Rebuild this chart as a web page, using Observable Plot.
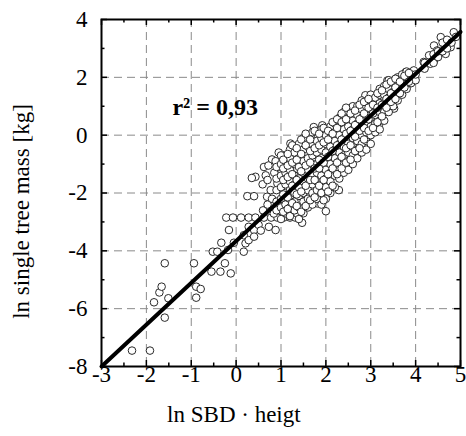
<!DOCTYPE html>
<html><head><meta charset="utf-8">
<script src="https://cdn.jsdelivr.net/npm/d3@7"></script>
<script src="https://cdn.jsdelivr.net/npm/@observablehq/plot@0.6"></script>
<style>
html,body{margin:0;padding:0;background:#fff}
#chart svg, #chart svg text, #chart svg g { font-family: "Liberation Serif", "Times New Roman", serif !important; }
</style>
</head><body><div id="chart"></div>
<script>
const scatteredPoints = [
  [-2.32,-7.45],[-1.92,-7.45],[-1.83,-5.78],[-1.71,-5.44],[-1.66,-5.24],[-1.59,-4.43],
  [-1.51,-5.64],[-1.59,-6.31],[-0.94,-4.43],[-0.89,-5.24],[-0.79,-5.32],[-0.89,-5.62],
  [-0.55,-4.72],[-0.52,-4.03],[-0.42,-4.03],[-0.33,-3.72],[-0.35,-4.72],[-0.25,-4.43],
  [-0.18,-3.97],[-0.12,-4.78],[-0.16,-3.28],
  [-0.22,-2.85],[-0.07,-2.85],[0.11,-2.85],[0.28,-2.85],[0.43,-2.85],[0.62,-2.85],
  [0.78,-2.85],[0.92,-2.85],[1.06,-2.85],[1.20,-2.85],[1.32,-2.85],
  [-0.05,-3.72],[0.17,-3.46],[0.21,-3.74],[0.28,-3.63],[0.17,-4.03],[0.28,-3.17],
  [0.40,-3.28],[0.40,-3.51],[0.25,-2.11],[0.40,-2.11],[0.43,-1.44],[0.35,-1.48],
  [0.62,-1.10],[0.66,-1.39],[0.59,-1.70],[0.73,-3.17],[0.69,-2.13],[0.77,-1.90],
  [0.84,-2.71],[0.88,-3.28],[0.80,-0.84],[0.92,-1.67],[1.00,-1.33],[1.07,-0.98],
  [1.03,-0.69],[1.14,-2.08],[1.21,-2.36],[1.21,-0.29],[1.29,-0.69],[1.36,-1.16],
  [1.40,-1.73],[1.44,-2.25],[1.47,-3.03],[1.47,-2.62],[1.36,-2.71],[1.51,-0.41],
  [1.58,-0.69],[1.66,-0.06],[1.73,0.28],[1.77,-0.52],[1.81,-1.33],[1.92,0.34],
  [1.81,-2.36],[2.00,-2.63],[1.84,-2.13],[2.29,-1.90],[2.07,-1.10],[2.00,-0.06],
  [2.14,0.28],[2.25,0.05],[2.33,0.57],[2.48,0.86],[2.55,0.51],[2.59,-0.52],
  [2.70,-0.18],[2.74,0.97],[2.88,-0.29],[2.92,0.17],[2.88,1.38],[2.99,0.00],
  [2.99,0.74],[3.07,0.34],[3.14,1.20],[3.18,0.34],[3.29,1.32],[3.33,0.86],
  [3.37,1.89],[3.48,1.61],[3.52,0.92],[3.59,1.78],[3.66,1.49],[3.70,2.01],
  [3.78,2.18],[3.85,1.78],[3.96,2.24],[4.18,2.53],[4.30,2.76],[4.41,3.10],
  [4.48,2.93],[4.56,3.39],[4.63,3.16],[4.67,2.81],[4.74,3.22],[4.85,3.56],
  [4.78,3.04],[4.33,2.47],[4.41,2.58],
  [0.50,-3.10],[0.60,-2.60],[0.70,-2.40],[0.80,-2.20],[0.55,-3.30],
  [0.72,-1.05],[0.88,-0.90],[0.95,-0.60],[0.70,-1.55],[0.85,-1.30]
];
// dense cloud, read column by column: [x, [y values]]
const denseColumns = [
  [0.9, [-2.6,-2.3,-1.9,-1.5,-1.1]],
  [1.0, [-2.9,-2.5,-2.2,-1.8,-1.4,-1.0,-0.7]],
  [1.1, [-2.7,-2.4,-2.0,-1.7,-1.3,-0.9]],
  [1.2, [-2.8,-2.5,-2.2,-1.9,-1.6,-1.2,-0.8,-0.5]],
  [1.3, [-2.6,-2.3,-2.0,-1.7,-1.4,-1.0,-0.6]],
  [1.4, [-2.9,-2.5,-2.1,-1.8,-1.5,-1.1,-0.8,-0.3]],
  [1.5, [-2.7,-2.3,-2.0,-1.6,-1.3,-0.9,-0.5,-0.1]],
  [1.6, [-2.5,-2.2,-1.9,-1.5,-1.2,-0.8,-0.4]],
  [1.7, [-2.4,-2.0,-1.7,-1.4,-1.0,-0.7,-0.3,0.1]],
  [1.8, [-2.2,-1.9,-1.6,-1.3,-1.0,-0.6,-0.2]],
  [1.9, [-2.4,-2.0,-1.7,-1.4,-1.1,-0.8,-0.5,-0.1,0.2]],
  [2.0, [-2.2,-1.8,-1.5,-1.2,-0.9,-0.6,-0.3,0.0]],
  [2.1, [-2.0,-1.6,-1.3,-1.0,-0.7,-0.4,-0.1,0.3]],
  [2.2, [-1.8,-1.4,-1.1,-0.8,-0.5,-0.2,0.1,0.4]],
  [2.3, [-1.5,-1.2,-0.9,-0.6,-0.3,0.0,0.3,0.6]],
  [2.4, [-1.3,-1.0,-0.7,-0.4,-0.1,0.2,0.5,0.8]],
  [2.5, [-1.2,-0.9,-0.6,-0.3,0.0,0.3,0.6]],
  [2.6, [-1.0,-0.7,-0.4,-0.1,0.2,0.5,0.8,1.0]],
  [2.7, [-0.8,-0.5,-0.2,0.1,0.4,0.7,1.0]],
  [2.8, [-0.6,-0.3,0.0,0.3,0.6,0.9,1.2]],
  [2.9, [-0.5,-0.2,0.1,0.4,0.7,1.0]],
  [3.0, [-0.3,0.0,0.3,0.6,0.9,1.2,1.4]],
  [3.1, [0.1,0.4,0.7,1.0,1.3]],
  [3.2, [0.2,0.5,0.8,1.1,1.4,1.6]],
  [3.3, [0.5,0.8,1.1,1.4,1.7]],
  [3.4, [0.8,1.0,1.3,1.6,1.9]],
  [3.5, [1.0,1.3,1.5,1.8]],
  [3.6, [1.2,1.5,1.7,2.0]],
  [3.7, [1.4,1.7,1.9,2.1]],
  [3.8, [1.6,1.8,2.0,2.2]],
  [3.9, [1.8,2.0,2.1]],
  [4.0, [1.9,2.1]],
  [4.2, [2.3,2.5]],
  [4.4, [2.5,2.8]],
  [4.5, [2.7,2.9]],
  [4.6, [2.9,3.2]],
  [4.7, [3.0,3.3]],
  [4.8, [3.2]],
  [4.9, [3.4]],
  [1.05, [-2.65,-2.05,-1.55,-1.15,-0.85]],
  [1.15, [-2.55,-2.15,-1.45,-1.05,-0.65]],
  [1.25, [-2.35,-1.75,-1.35,-0.95,-0.35]],
  [1.35, [-2.45,-2.05,-1.55,-0.85,-0.45]],
  [1.45, [-2.65,-1.95,-1.25,-0.65,-0.15]],
  [1.55, [-2.45,-1.75,-1.05,-0.35,0.05]],
  [1.65, [-2.25,-1.55,-0.95,-0.55,-0.15]],
  [1.75, [-2.15,-1.55,-1.15,-0.45,0.15]],
  [1.85, [-1.75,-1.15,-0.85,-0.35,0.05]],
  [1.95, [-2.25,-1.55,-0.95,-0.25,0.25]],
  [2.05, [-1.95,-1.35,-0.75,-0.15,0.15]],
  [2.15, [-1.75,-1.15,-0.55,0.05,0.45]],
  [2.25, [-1.35,-0.95,-0.35,0.25,0.55]],
  [2.35, [-1.15,-0.75,-0.15,0.45,0.75]],
  [2.45, [-0.95,-0.45,0.05,0.55,0.95]],
  [2.55, [-0.85,-0.35,0.15,0.75]],
  [2.65, [-0.55,-0.05,0.35,0.85]],
  [2.75, [-0.45,0.15,0.55,1.05]],
  [2.85, [-0.15,0.25,0.75,1.15]],
  [2.95, [0.15,0.55,0.95,1.25]],
  [3.05, [0.25,0.75,1.05]],
  [3.15, [0.45,0.95,1.45]],
  [3.25, [0.65,1.05,1.55]],
  [3.35, [0.95,1.25,1.75]],
  [3.45, [1.15,1.45,1.85]],
  [3.55, [1.25,1.65,1.95]],
  [3.65, [1.45,1.85]],
  [3.75, [1.65,2.05]],
  [3.85, [1.85,2.15]]
];
// regression line end points
const fitX = [-3, 5];
const fitY = [-8, 3.57];
// axes
const xMajorTicks = [-3, -2, -1, 0, 1, 2, 3, 4, 5];
const xMinorTicks = [-2.5, -1.5, -0.5, 0.5, 1.5, 2.5, 3.5, 4.5];
const yMajorTicks = [-8, -6, -4, -2, 0, 2, 4];
const yMinorTicks = [-7, -5, -3, -1, 1, 3];
const xGrid = [-2, -1, 0, 1, 2, 3, 4];
const yGrid = [-6, -4, -2, 0, 2];
const xTitle = [{x: -0.05, y: -8, text: "ln SBD · heigt"}];
const yTitle = [{x: -3, y: -2.64, text: "ln single tree mass [kg]"}];
const annotation = [{x: -1.42, y: 0.95, text: "r² = 0,93"}];

const points = scatteredPoints.map(([x, y]) => ({x, y}));
for (const [x, ys] of denseColumns) for (const y of ys) points.push({x, y});
const fit = fitX.map((x, i) => ({x, y: fitY[i]}));

const W = 466, H = 436, mL = 101, mR = 6, mT = 19, mB = 70;
const innerH = H - mT - mB, innerW = W - mL - mR;
const majorLen = 6, minorLen = 3.5;
const tickStroke = {stroke: "black", strokeWidth: 1.5};
const serif = "Liberation Serif";

const chart = Plot.plot({
  width: W, height: H,
  marginLeft: mL, marginRight: mR, marginTop: mT, marginBottom: mB,
  x: {domain: [-3, 5], axis: null},
  y: {domain: [-8, 4], axis: null},
  style: {fontFamily: serif, background: "white", color: "black"},
  marks: [
    Plot.ruleX(xGrid, {stroke: "#8a8a8a", strokeWidth: 1, strokeDasharray: "8,5"}),
    Plot.ruleY(yGrid, {stroke: "#8a8a8a", strokeWidth: 1, strokeDasharray: "8,5"}),
    // inward ticks: bottom, top, left, right
    Plot.ruleX(xMajorTicks, {...tickStroke, insetTop: innerH - majorLen}),
    Plot.ruleX(xMinorTicks, {...tickStroke, insetTop: innerH - minorLen}),
    Plot.ruleX(xMajorTicks, {...tickStroke, insetBottom: innerH - majorLen}),
    Plot.ruleX(xMinorTicks, {...tickStroke, insetBottom: innerH - minorLen}),
    Plot.ruleY(yMajorTicks, {...tickStroke, insetRight: innerW - majorLen}),
    Plot.ruleY(yMinorTicks, {...tickStroke, insetRight: innerW - minorLen}),
    Plot.ruleY(yMajorTicks, {...tickStroke, insetLeft: innerW - majorLen}),
    Plot.ruleY(yMinorTicks, {...tickStroke, insetLeft: innerW - minorLen}),
    Plot.dot(points, {x: "x", y: "y", r: 3.8, stroke: "#2a2a2a", strokeWidth: 1, fill: "white"}),
    Plot.line(fit, {x: "x", y: "y", stroke: "black", strokeWidth: 4}),
    Plot.frame({stroke: "black", strokeWidth: 2}),
    Plot.text(xMajorTicks, {x: d => d, frameAnchor: "bottom", dy: 15, text: d => String(d), fontSize: 23, fontFamily: serif}),
    Plot.text(yMajorTicks, {y: d => d, frameAnchor: "left", dx: -14, textAnchor: "end", text: d => String(d), fontSize: 23, fontFamily: serif}),
    Plot.text(annotation, {x: "x", y: "y", text: "text", textAnchor: "start", fontSize: 24, fontWeight: "bold", fontFamily: serif}),
    Plot.text(xTitle, {x: "x", y: "y", text: "text", dy: 48, fontSize: 23, fontFamily: serif}),
    Plot.text(yTitle, {x: "x", y: "y", text: "text", dx: -80, rotate: -90, fontSize: 23, fontFamily: serif})
  ]
});
document.getElementById("chart").appendChild(chart);
</script>
</body></html>
